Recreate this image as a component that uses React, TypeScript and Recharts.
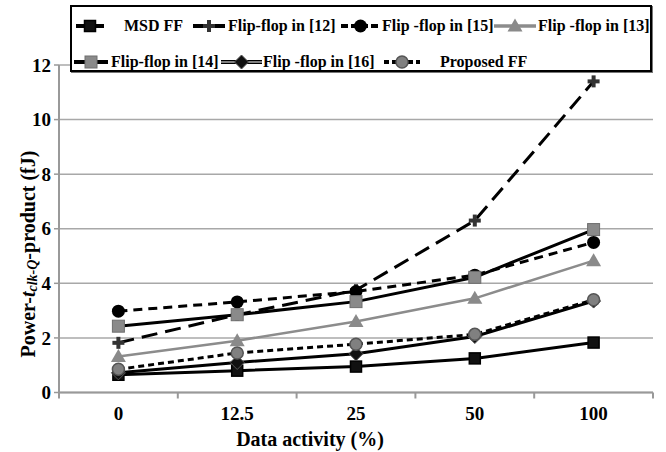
import React from 'react';
import { LineChart, Line, XAxis, YAxis, CartesianGrid, Legend } from 'recharts';

// ---- data ----
const categories = ['0', '12.5', '25', '50', '100'];
const msdFF = [0.65, 0.8, 0.95, 1.25, 1.83];
const ff12 = [1.82, 2.85, 3.75, 6.3, 11.4];
const ff15 = [2.98, 3.32, 3.7, 4.3, 5.5];
const ff13 = [1.32, 1.9, 2.6, 3.45, 4.83];
const ff14 = [2.43, 2.85, 3.33, 4.22, 5.97];
const ff16 = [0.72, 1.1, 1.42, 2.05, 3.35];
const proposed = [0.85, 1.45, 1.77, 2.13, 3.4];
const yTicks = [0, 2, 4, 6, 8, 10, 12];

const seriesNames = {
  msd: 'MSD FF',
  f12: 'Flip-flop in [12]',
  f15: 'Flip -flop in [15]',
  f13: 'Flip -flop in [13]',
  f14: 'Flip-flop in [14]',
  f16: 'Flip -flop in [16]',
  prop: 'Proposed FF',
};

const data = categories.map((c, i) => ({
  cat: c,
  msd: msdFF[i],
  f12: ff12[i],
  f15: ff15[i],
  f13: ff13[i],
  f14: ff14[i],
  f16: ff16[i],
  prop: proposed[i],
}));

// ---- styles ----
const FONT = "'Liberation Serif', 'Times New Roman', serif";
const styles: Record<string, { stroke: string; width: number; dash?: string; legendDash?: string; shape: string }> = {
  msd: { stroke: '#000', width: 3, shape: 'square' },
  f12: { stroke: '#000', width: 3, dash: '16 8', shape: 'plus' },
  f15: { stroke: '#000', width: 3, dash: '9 6', legendDash: '7 3', shape: 'circle' },
  f13: { stroke: '#8c8c8c', width: 2.5, shape: 'triangle' },
  f14: { stroke: '#000', width: 3, shape: 'graySquare' },
  f16: { stroke: '#000', width: 3, shape: 'diamond' },
  prop: { stroke: '#000', width: 3, dash: '6 4', legendDash: '5 3', shape: 'grayCircle' },
};

function Marker({ shape, cx, cy }: { shape: string; cx: number; cy: number }) {
  switch (shape) {
    case 'square':
      return <rect x={cx - 5.5} y={cy - 5.5} width={11} height={11} fill="#111" stroke="#000" strokeWidth={1.5} />;
    case 'plus':
      return (
        <g>
          <rect x={cx - 6} y={cy - 2} width={12} height={4} fill="#333" />
          <rect x={cx - 2} y={cy - 6} width={4} height={12} fill="#333" />
        </g>
      );
    case 'circle':
      return <circle cx={cx} cy={cy} r={6.5} fill="#000" />;
    case 'triangle':
      return <polygon points={`${cx},${cy - 7.5} ${cx + 7.5},${cy + 5.5} ${cx - 7.5},${cy + 5.5}`} fill="#8a8a8a" />;
    case 'graySquare':
      return <rect x={cx - 6} y={cy - 6} width={12} height={12} fill="#8a8a8a" stroke="#6e6e6e" strokeWidth={1} />;
    case 'diamond':
      return <polygon points={`${cx},${cy - 7} ${cx + 7},${cy} ${cx},${cy + 7} ${cx - 7},${cy}`} fill="#111" stroke="#555" strokeWidth={1} />;
    case 'grayCircle':
      return <circle cx={cx} cy={cy} r={6} fill="#808080" stroke="#555" strokeWidth={1.5} />;
    default:
      return null;
  }
}

const legendLayout: { key: string; row: number; iconL: number; iconW: number; textL: number }[] = [
  { key: 'msd', row: 0, iconL: 76, iconW: 28, textL: 124 },
  { key: 'f12', row: 0, iconL: 193, iconW: 32, textL: 228 },
  { key: 'f15', row: 0, iconL: 341, iconW: 39, textL: 382 },
  { key: 'f13', row: 0, iconL: 494, iconW: 42, textL: 538 },
  { key: 'f14', row: 1, iconL: 74, iconW: 34, textL: 111 },
  { key: 'f16', row: 1, iconL: 221, iconW: 41, textL: 263 },
  { key: 'prop', row: 1, iconL: 384, iconW: 36, textL: 440 },
];

function LegendBox() {
  const boxL = 72;
  const rowY = [19, 55];
  return (
    <div
      style={{
        position: 'relative',
        width: 582,
        height: 67,
        border: '2px solid #000',
        boxSizing: 'border-box',
        background: '#fff',
        fontFamily: FONT,
        fontWeight: 'bold',
        fontSize: 16,
        color: '#000',
        boxShadow: '1px 1px 0 #777',
      }}
    >
      {legendLayout.map((it) => {
        const st = styles[it.key];
        return (
          <React.Fragment key={it.key}>
            <svg
              width={it.iconW}
              height={16}
              style={{ position: 'absolute', left: it.iconL - boxL, top: rowY[it.row] - 8 }}
            >
              <line x1={0} y1={8} x2={it.iconW} y2={8} stroke={st.stroke} strokeWidth={st.width + 1} strokeDasharray={st.legendDash} />
              {it.key === 'f16' && <line x1={0} y1={8} x2={it.iconW} y2={8} stroke="#fff" strokeWidth={1} />}
              <Marker shape={st.shape} cx={it.iconW / 2} cy={8} />
            </svg>
            <span
              style={{
                position: 'absolute',
                left: it.textL - boxL,
                top: rowY[it.row] - 9,
                lineHeight: '18px',
                whiteSpace: 'nowrap',
              }}
            >
              {seriesNames[it.key as keyof typeof seriesNames]}
            </span>
          </React.Fragment>
        );
      })}
    </div>
  );
}

const HALF_BAND = 59.4;

function XTick(props: any) {
  const { x, y, payload, index } = props;
  const axisY = y - 8;
  return (
    <g>
      <line x1={x - HALF_BAND} y1={axisY} x2={x - HALF_BAND} y2={axisY + 6} stroke="#999" strokeWidth={2} />
      {index === categories.length - 1 && (
        <line x1={x + HALF_BAND} y1={axisY} x2={x + HALF_BAND} y2={axisY + 6} stroke="#999" strokeWidth={2} />
      )}
      <text x={x} y={y + 19} textAnchor="middle" fontFamily={FONT} fontWeight="bold" fontSize={19} fill="#000">
        {payload.value}
      </text>
    </g>
  );
}

function XTitle() {
  return (
    <text x={310} y={446} textAnchor="middle" fontFamily={FONT} fontWeight="bold" fontSize={20} fill="#000">
      Data activity (%)
    </text>
  );
}

function YTitle() {
  const cx = 28;
  const cy = 254;
  return (
    <text
      x={cx}
      y={cy}
      transform={`rotate(-90, ${cx}, ${cy})`}
      textAnchor="middle"
      dominantBaseline="central"
      fontFamily={FONT}
      fontWeight="bold"
      fontSize={20}
      fill="#000"
    >
      Power-<tspan fontStyle="italic">t</tspan>
      <tspan fontStyle="italic" fontSize={14} dy={4}>clk-Q</tspan>
      <tspan dy={-4}>-product (fJ)</tspan>
    </text>
  );
}

export default function App() {
  return (
    <div style={{ position: 'absolute', left: 0, top: 0, width: 666, height: 452, background: '#fff' }}>
      <LineChart width={666} height={452} data={data} margin={{ top: 65, right: 13, left: 0, bottom: 0 }}>
        <CartesianGrid vertical={false} stroke="#a8a8a8" strokeWidth={1.5} />
        <XAxis
          dataKey="cat"
          height={59.5}
          padding={{ left: HALF_BAND, right: HALF_BAND }}
          axisLine={{ stroke: '#999', strokeWidth: 2 }}
          tickLine={false}
          tickSize={6}
          tickMargin={2}
          tick={<XTick />}
          interval={0}
          label={<XTitle />}
        />
        <YAxis
          width={59}
          domain={[0, 12]}
          ticks={yTicks}
          allowDataOverflow
          axisLine={{ stroke: '#999', strokeWidth: 2 }}
          tickLine={{ stroke: '#999', strokeWidth: 1.5 }}
          tickSize={5}
          tickMargin={3}
          tick={{ fill: '#000', fontFamily: FONT, fontWeight: 'bold', fontSize: 19 }}
          label={<YTitle />}
        />
        {Object.keys(styles).map((k) => {
          const st = styles[k];
          return (
            <Line
              key={k}
              dataKey={k}
              name={seriesNames[k as keyof typeof seriesNames]}
              stroke={st.stroke}
              strokeWidth={st.width}
              strokeDasharray={st.dash}
              isAnimationActive={false}
              dot={(p: any) => <Marker key={`${k}-${p.index}`} shape={st.shape} cx={p.cx} cy={p.cy} />}
              activeDot={false}
            />
          );
        })}
        <Legend
          layout="vertical"
          verticalAlign="middle"
          align="center"
          content={() => <LegendBox />}
          wrapperStyle={{ position: 'absolute', left: 70, top: 5, width: 582, height: 67 }}
        />
      </LineChart>
    </div>
  );
}
